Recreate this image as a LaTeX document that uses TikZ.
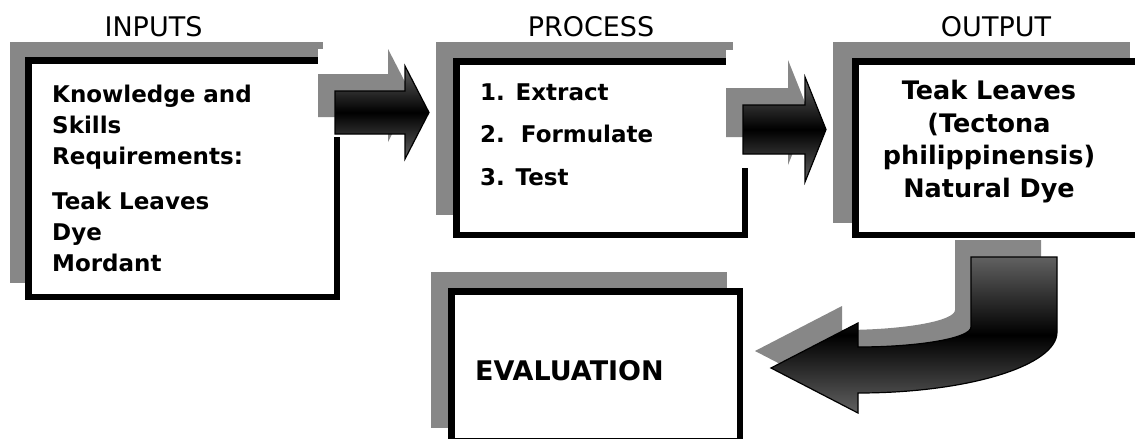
\documentclass[tikz,border=0pt]{standalone}
\usepackage{fontspec}
\setmainfont{DejaVu Sans}
\usetikzlibrary{calc}
\definecolor{ShadowGray}{RGB}{135,135,135}

% block arrows (y runs downwards in the picture)
\newcommand{\arrowone}{(335,91) -- (405,91) -- (405,66) -- (429,112.5) -- (405,159) -- (405,134) -- (335,134) -- cycle}
\newcommand{\arrowtwo}{(743,105) -- (805,105) -- (805,77) -- (826,129.5) -- (805,182) -- (805,154) -- (743,154) -- cycle}
\newcommand{\arrowturn}{(971,257) -- (1057,257) -- (1057,332) .. controls (1057,366) and (967,393) .. (858,393) -- (858,413) -- (771,368) -- (858,323) -- (858,347) .. controls (920,347) and (971,338) .. (971,327) -- cycle}

\tikzset{
	stagebox/.style={draw, line width=6.5pt, fill=white, inner sep=0pt},
	boxshadow/.style={fill=ShadowGray},
	blockarrow/.style={draw=black, line width=1.2pt, line join=miter,
		top color=black!62, bottom color=black!62, middle color=black},
	headtext/.style={font=\fontsize{27}{30}\selectfont, inner sep=0pt},
	bodytext/.style={align=left, inner sep=0pt}
}

\begin{document}
\begin{tikzpicture}[x=1pt, y=-1pt]
	\useasboundingbox (0,0) rectangle (1135,439);
	
	% Schatten der Kästen
	\fill[boxshadow] (10,42) rectangle (323,283);
	\fill[boxshadow] (436,42) rectangle (733,215);
	\fill[boxshadow] (833,42) rectangle (1130,223);
	\fill[boxshadow] (431,272) rectangle (727,428);
	
	% Kästen
	\node[stagebox, minimum width=308.5pt, minimum height=236.5pt] (inputs) at (182.5,178.5) {};
	\node[stagebox, minimum width=288.5pt, minimum height=173.5pt] (process) at (600.5,148) {};
	\node[stagebox, minimum width=288.5pt, minimum height=173.5pt] (output) at (999.5,148) {};
	\node[stagebox, minimum width=288.5pt, minimum height=149.5pt] (evaluation) at (595.5,366) {};
	
	% Überschriften
	\node[headtext, anchor=base] (inputshead) at (153.5,36) {INPUTS};
	\node[headtext, anchor=base] (processhead) at (591,36) {PROCESS};
	\node[headtext, anchor=base] (outputhead) at (996,36) {OUTPUT};
	
	% Inhalt (base = Grundlinie der letzten Zeile)
	\node[bodytext, font=\bfseries\fontsize{23}{31}\selectfont, anchor=base west] (inputslist) at (52,271)
		{Knowledge and\\Skills\\Requirements:\\[14pt]Teak Leaves\\Dye\\Mordant};
	\node[bodytext, font=\bfseries\fontsize{23}{42.5}\selectfont, anchor=base west] (processlist) at (480,185)
		{1. Extract\\2.\ \ Formulate\\3. Test};
	\node[bodytext, align=center, font=\bfseries\fontsize{25.5}{32.5}\selectfont, anchor=base] (outputlist) at (989,197)
		{Teak Leaves\\(Tectona\\philippinensis)\\Natural Dye};
	\node[bodytext, font=\bfseries\fontsize{27}{32}\selectfont, anchor=base west] (evaltext) at (475,380) {EVALUATION};
	
	% Pfeile mit Schatten
	\fill[white] (318,49) rectangle (412,137);
	\fill[white] (726,50) rectangle (809,168);
	\fill[ShadowGray, shift={(-17,-17)}] \arrowone;
	\fill[ShadowGray, shift={(-17,-17)}] \arrowtwo;
	\fill[ShadowGray, shift={(-16,-17)}] \arrowturn;
	\draw[blockarrow] \arrowone;
	\draw[blockarrow] \arrowtwo;
	\draw[blockarrow] \arrowturn;
\end{tikzpicture}
\end{document}
